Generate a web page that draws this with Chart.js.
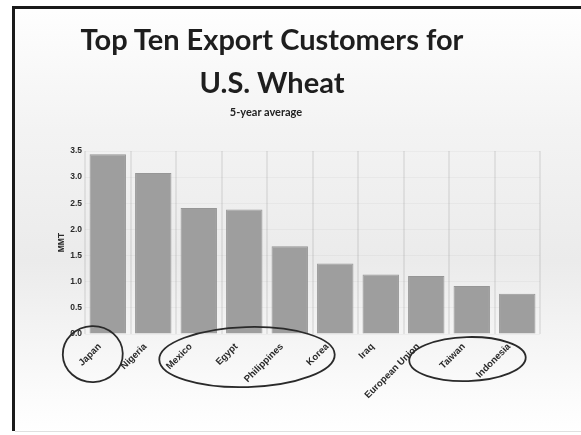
<!DOCTYPE html>
<html>
<head>
<meta charset="utf-8">
<script src="https://cdn.jsdelivr.net/npm/chart.js@4.4.1/dist/chart.umd.min.js"></script>
<style>
  html, body { margin: 0; padding: 0; background: #fff; }
  #wrap { position: relative; width: 581px; height: 435px; }
  #wrap canvas { position: absolute; left: 0; top: 0; }
  .titulo {
    position: absolute; left: 0; width: 544px; text-align: center;
    font-family: Lato, sans-serif; font-weight: bold; color: #1e1e1e;
    font-size: 29px; line-height: 43px; top: 17px; z-index: 2;
  }
  .subtitulo {
    position: absolute; left: 0; width: 532px; text-align: center;
    font-family: Lato, sans-serif; font-weight: bold; color: #222;
    font-size: 11px; line-height: 13px; top: 105px; z-index: 2;
  }
</style>
</head>
<body>
<div id="wrap">
  <canvas id="wheatChart" width="581" height="435"></canvas>
  <div class="titulo" id="titulo"></div>
  <div class="subtitulo" id="subtitulo"></div>
</div>
<script>
// Datos del gráfico
const countries = ['Japan', 'Nigeria', 'Mexico', 'Egypt', 'Philippines', 'Korea', 'Iraq', 'European Union', 'Taiwan', 'Indonesia'];
const avgExports = [3.44, 3.08, 2.41, 2.38, 1.68, 1.35, 1.14, 1.11, 0.92, 0.77];
const yTicks = [0, 0.5, 1.0, 1.5, 2.0, 2.5, 3.0, 3.5];
const titleLines = ['Top Ten Export Customers for', 'U.S. Wheat'];
const subtitleText = '5-year average';
const axisTitle = 'MMT';
// grupos marcados a mano (índices de inicio y fin)
const circledGroups = [[0, 0], [2, 5], [8, 9]];

document.getElementById('titulo').innerHTML = titleLines.join('<br>');
document.getElementById('subtitulo').textContent = subtitleText;

// Marco y fondo de la diapositiva
const slideFrame = {
  id: 'slideFrame',
  beforeDraw(chart) {
    const { ctx, width, height } = chart;
    ctx.save();
    const g = ctx.createLinearGradient(0, 0, 0, height);
    g.addColorStop(0, '#ffffff');
    g.addColorStop(0.3, '#f3f3f3');
    g.addColorStop(0.6, '#ebebeb');
    g.addColorStop(0.9, '#fbfbfb');
    g.addColorStop(1, '#ffffff');
    ctx.fillStyle = g;
    ctx.fillRect(14, 8, width - 14, height - 12);
    ctx.strokeStyle = '#1a1a1a';
    ctx.lineWidth = 3;
    ctx.beginPath();
    ctx.moveTo(13.5, height - 4);
    ctx.lineTo(13.5, 7.5);
    ctx.lineTo(width, 7.5);
    ctx.stroke();
    ctx.strokeStyle = '#e0e0e0';
    ctx.lineWidth = 1;
    ctx.beginPath();
    ctx.moveTo(15, height - 3.5);
    ctx.lineTo(width, height - 3.5);
    ctx.stroke();
    ctx.restore();
  }
};

// Círculos dibujados a mano alrededor de las etiquetas
const handCircles = {
  id: 'handCircles',
  afterDraw(chart) {
    const { ctx } = chart;
    const x = chart.scales.x;
    const base = chart.scales.y.bottom;
    const shapes = [
      { off: -15, extra: 30, dy: 20, ry: 28 },
      { off: -20, extra: 19.5, dy: 23, ry: 30 },
      { off: -27, extra: 35.5, dy: 25, ry: 22 }
    ];
    ctx.save();
    ctx.strokeStyle = '#2a2a2a';
    ctx.lineWidth = 1.8;
    circledGroups.forEach(([a, b], i) => {
      const s = shapes[i];
      const x0 = x.getPixelForValue(a);
      const x1 = x.getPixelForValue(b);
      ctx.beginPath();
      ctx.ellipse((x0 + x1) / 2 + s.off, base + s.dy, (x1 - x0) / 2 + s.extra, s.ry, -0.03, 0, Math.PI * 2);
      ctx.stroke();
    });
    ctx.restore();
  }
};

const ctx = document.getElementById('wheatChart').getContext('2d');
new Chart(ctx, {
  type: 'bar',
  data: {
    labels: countries,
    datasets: [{
      label: axisTitle,
      data: avgExports,
      backgroundColor: '#9e9e9e',
      borderColor: '#969696',
      borderWidth: 1,
      barPercentage: 0.8,
      categoryPercentage: 1.0
    }]
  },
  options: {
    responsive: false,
    animation: false,
    devicePixelRatio: 1,
    layout: { padding: { left: 57, right: 41, top: 151, bottom: 27 } },
    plugins: {
      legend: { display: false },
      tooltip: { enabled: false },
      title: { display: false }
    },
    scales: {
      x: {
        grid: { display: true, offset: true, color: 'rgba(0,0,0,0.07)', lineWidth: 2, drawTicks: false },
        border: { display: false },
        ticks: {
          color: '#2a2a2a',
          font: { family: 'Liberation Sans', size: 9.5, weight: 'bold' },
          minRotation: 45,
          maxRotation: 45,
          autoSkip: false,
          labelOffset: -8,
          padding: 7
        }
      },
      y: {
        min: 0,
        max: 3.5,
        afterBuildTicks: (axis) => { axis.ticks = yTicks.map(v => ({ value: v })); },
        grid: { color: 'rgba(0,0,0,0.03)', drawTicks: false },
        border: { display: false },
        title: {
          display: true,
          text: axisTitle,
          color: '#2a2a2a',
          font: { family: 'Liberation Sans', size: 8.5, weight: 'bold' },
          padding: { top: 0, bottom: 0 }
        },
        ticks: {
          color: '#2a2a2a',
          font: { family: 'Liberation Sans', size: 8.5, weight: 'bold' },
          padding: 3,
          callback: (v) => Number(v).toFixed(1)
        }
      }
    }
  },
  plugins: [slideFrame, handCircles]
});
</script>
</body>
</html>
